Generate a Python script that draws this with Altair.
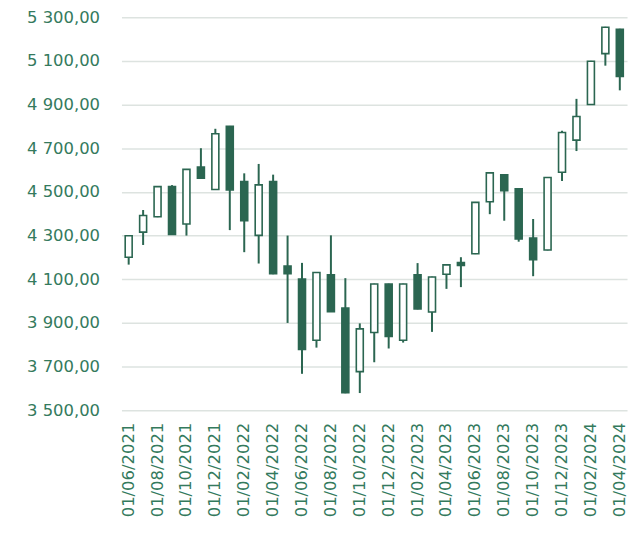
import altair as alt
import pandas as pd

dates = [
    "01/06/2021", "01/07/2021", "01/08/2021", "01/09/2021", "01/10/2021", "01/11/2021",
    "01/12/2021", "01/01/2022", "01/02/2022", "01/03/2022", "01/04/2022", "01/05/2022",
    "01/06/2022", "01/07/2022", "01/08/2022", "01/09/2022", "01/10/2022", "01/11/2022",
    "01/12/2022", "01/01/2023", "01/02/2023", "01/03/2023", "01/04/2023", "01/05/2023",
    "01/06/2023", "01/07/2023", "01/08/2023", "01/09/2023", "01/10/2023", "01/11/2023",
    "01/12/2023", "01/01/2024", "01/02/2024", "01/03/2024", "01/04/2024",
]
opens = [4201, 4316, 4386, 4525, 4353, 4614, 4511, 4800, 4547, 4301, 4547, 4160,
         4101, 3821, 4120, 3968, 3677, 3856, 4078, 3821, 4120, 3950, 4123, 4177,
         4217, 4455, 4578, 4514, 4289, 4234, 4590, 4737, 4900, 5133, 5245]
highs = [4302, 4417, 4527, 4531, 4605, 4700, 4789, 4802, 4585, 4628, 4579, 4300,
         4175, 4133, 4301, 4105, 3898, 4080, 4080, 4080, 4174, 4112, 4168, 4201,
         4454, 4589, 4580, 4516, 4376, 4568, 4780, 4926, 5100, 5256, 5247]
lows = [4167, 4257, 4384, 4303, 4300, 4561, 4510, 4325, 4224, 4172, 4123, 3900,
        3667, 3787, 3950, 3578, 3579, 3720, 3783, 3810, 3962, 3859, 4056, 4064,
        4215, 4398, 4368, 4272, 4114, 4232, 4550, 4687, 4898, 5078, 4965]
closes = [4299, 4392, 4524, 4305, 4603, 4563, 4766, 4509, 4368, 4532, 4125, 4125,
          3779, 4131, 3951, 3580, 3873, 4078, 3838, 4078, 3964, 4110, 4166, 4163,
          4452, 4587, 4505, 4284, 4190, 4566, 4772, 4845, 5098, 5254, 5029]
y_ticks = [3500, 3700, 3900, 4100, 4300, 4500, 4700, 4900, 5100, 5300]

df = pd.DataFrame({"date": dates, "open": opens, "high": highs, "low": lows, "close": closes})

GREEN = "#2b6651"
TEXT = "#347a5d"
FONT = "DejaVu Sans"
FS = 16.5

x_enc = alt.X(
    "date:O", sort=dates, title=None,
    scale=alt.Scale(paddingInner=0, paddingOuter=0),
    axis=alt.Axis(values=dates[::2], labelAngle=-90, ticks=False, domain=False, grid=False,
                  labelPadding=12, labelFontSize=FS, labelFont=FONT, labelColor=TEXT),
)
y_axis = alt.Axis(values=y_ticks, ticks=False, domain=False, grid=True,
                  gridColor="#dde3e0", gridWidth=1.5, labelPadding=22,
                  labelFontSize=FS, labelFont=FONT, labelColor=TEXT,
                  labelExpr="replace(replace(format(datum.value, ',.2f'), ',', ' '), '.', ',')")
y_scale = alt.Scale(domain=[3500, 5300], nice=False, zero=False)

base = alt.Chart(df)
wick = base.mark_rule(color=GREEN, strokeWidth=2).encode(
    x=x_enc,
    y=alt.Y("low:Q", scale=y_scale, axis=y_axis, title=None),
    y2="high:Q",
)
body = base.mark_bar(size=7, stroke=GREEN, strokeWidth=1.6).encode(
    x=x_enc,
    y=alt.Y("open:Q", scale=y_scale, axis=y_axis, title=None),
    y2="close:Q",
    fill=alt.condition("datum.close >= datum.open", alt.value("white"), alt.value(GREEN)),
)

chart = (wick + body).properties(
    width=508, height=395,
    padding={"left": 18, "top": 0, "right": 5, "bottom": 0},
).configure_view(stroke=None)

chart.save("out.html", embed_options={"renderer": "svg", "actions": False})
